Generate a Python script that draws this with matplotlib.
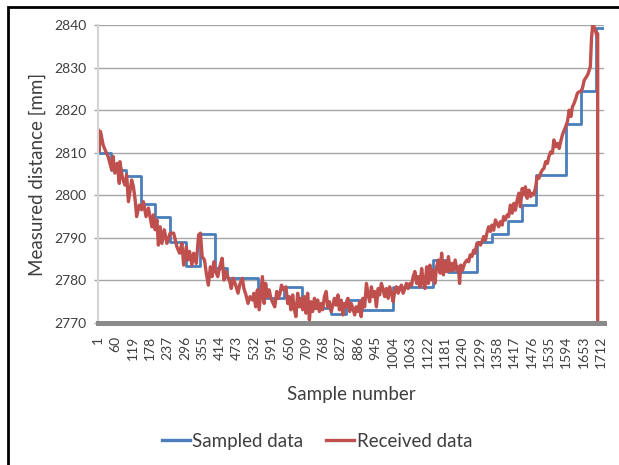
import numpy as np
import matplotlib
matplotlib.use('Agg')
import matplotlib.pyplot as plt
from matplotlib.patches import Rectangle

plt.rcParams['font.family'] = ['Lato', 'DejaVu Sans']

n_samples = 1722

# sampled data: sample where each level starts, and the level
step_start = [1, 45, 97, 147, 195, 247, 301, 347, 397, 441, 545, 634, 696, 795,
              845, 898, 1004, 1141, 1192, 1291, 1343, 1396, 1444, 1492, 1592,
              1644, 1695]
step_level = [2810, 2806, 2804.5, 2798, 2795, 2789, 2783.5, 2790.8, 2783, 2780.5,
              2775.8, 2778.4, 2773.5, 2772, 2775.4, 2773, 2778.5, 2784.8, 2782,
              2789, 2790.8, 2794, 2797.7, 2804.8, 2816.8, 2824.5, 2839.4]

# received data
recv_sample = [1, 4, 9, 18, 27, 35, 47, 52, 58, 66, 73, 75, 84, 92, 98, 104, 115,
               121, 127, 132, 141, 149, 155, 164, 172, 184, 189, 195, 201, 206,
               212, 218, 226, 235, 246, 258, 269, 278, 286, 292, 301, 306, 312,
               320, 326, 335, 343, 349, 355, 363, 369, 376, 383, 389, 395, 401,
               408, 415, 423, 429, 436, 442, 449, 454, 461, 469, 477, 484, 492,
               497, 504, 511, 518, 526, 531, 537, 543, 549, 554, 560, 566, 571,
               577, 583, 589, 594, 602, 609, 614, 620, 625, 632, 640, 646, 651,
               657, 663, 668, 674, 680, 686, 691, 697, 703, 708, 714, 720, 725,
               731, 737, 743, 748, 754, 760, 765, 771, 777, 782, 788, 794, 800,
               805, 811, 817, 822, 828, 834, 839, 845, 851, 857, 862, 868, 874,
               879, 885, 891, 896, 902, 908, 914, 919, 925, 931, 936, 942, 948,
               954, 959, 965, 971, 976, 982, 988, 993, 999, 1005, 1011, 1016,
               1022, 1028, 1033, 1039, 1045, 1050, 1056, 1062, 1068, 1073, 1079,
               1085, 1090, 1096, 1102, 1108, 1113, 1119, 1125, 1130, 1136, 1142,
               1147, 1153, 1159, 1165, 1170, 1176, 1182, 1187, 1193, 1199, 1205,
               1210, 1216, 1222, 1227, 1231, 1235, 1241, 1248, 1256, 1262, 1267,
               1273, 1279, 1284, 1290, 1296, 1302, 1307, 1313, 1319, 1324, 1330,
               1336, 1341, 1347, 1353, 1364, 1370, 1376, 1381, 1387, 1393, 1398,
               1404, 1410, 1416, 1421, 1427, 1433, 1438, 1444, 1450, 1455, 1461,
               1467, 1473, 1478, 1484, 1490, 1495, 1501, 1507, 1513, 1518, 1524,
               1530, 1535, 1541, 1547, 1552, 1558, 1564, 1570, 1575, 1581, 1587,
               1592, 1598, 1604, 1610, 1615, 1619, 1627, 1632, 1638, 1644, 1649,
               1655, 1667, 1676, 1680, 1684, 1687, 1693, 1697, 1701, 1702, 1722]
recv_value = [2815.3, 2810.3, 2815.0, 2811.8, 2810.3, 2809.1, 2806.0, 2809.1,
              2805.2, 2807.5, 2802.8, 2807.9, 2804.0, 2802.4, 2804.8, 2798.5,
              2803.6, 2802.0, 2798.9, 2795.0, 2797.7, 2796.6, 2798.5, 2795.0,
              2797.0, 2792.6, 2795.4, 2791.9, 2794.2, 2788.3, 2792.6, 2788.7,
              2791.9, 2788.7, 2791.1, 2791.1, 2787.9, 2786.4, 2788.7, 2783.6,
              2787.9, 2784.8, 2786.8, 2783.6, 2786.4, 2784.0, 2790.7, 2791.1,
              2785.6, 2784.8, 2781.7, 2778.9, 2783.2, 2780.9, 2784.4, 2782.1,
              2780.9, 2783.2, 2785.2, 2780.1, 2782.1, 2780.9, 2779.7, 2778.1,
              2780.5, 2778.9, 2777.0, 2779.3, 2780.5, 2778.1, 2776.6, 2774.6,
              2776.2, 2775.4, 2777.0, 2773.8, 2777.8, 2773.1, 2776.6, 2780.9,
              2774.6, 2779.3, 2776.2, 2777.8, 2775.8, 2775.0, 2773.8, 2777.4,
              2775.8, 2777.0, 2778.9, 2777.8, 2778.5, 2774.6, 2776.2, 2773.1,
              2776.6, 2773.4, 2771.5, 2777.0, 2773.8, 2775.8, 2773.1, 2776.2,
              2772.3, 2777.0, 2770.7, 2775.0, 2772.7, 2775.8, 2773.4, 2775.4,
              2772.7, 2774.6, 2773.1, 2776.2, 2777.4, 2773.8, 2775.0, 2772.7,
              2774.2, 2775.8, 2774.2, 2776.6, 2773.1, 2775.4, 2771.9, 2774.6,
              2773.8, 2775.8, 2772.7, 2774.6, 2773.4, 2771.9, 2773.8, 2772.7,
              2775.0, 2771.5, 2775.8, 2773.8, 2779.3, 2777.0, 2775.0, 2778.5,
              2776.2, 2777.4, 2773.8, 2778.1, 2776.6, 2779.3, 2777.8, 2776.2,
              2778.1, 2775.8, 2778.5, 2777.0, 2775.0, 2777.8, 2778.5, 2777.0,
              2778.1, 2778.9, 2777.0, 2778.1, 2779.3, 2778.1, 2779.3, 2778.9,
              2780.9, 2782.1, 2779.3, 2780.9, 2778.5, 2782.8, 2779.3, 2778.1,
              2783.2, 2779.3, 2783.6, 2780.1, 2782.4, 2779.3, 2783.2, 2784.8,
              2781.7, 2786.4, 2781.3, 2784.4, 2782.1, 2785.6, 2782.1, 2784.0,
              2782.4, 2784.8, 2782.4, 2783.2, 2779.3, 2783.6, 2782.4, 2784.0,
              2784.8, 2784.4, 2786.0, 2785.6, 2787.1, 2786.4, 2788.7, 2788.9,
              2788.3, 2789.1, 2790.3, 2789.5, 2791.1, 2792.6, 2791.5, 2793.0,
              2791.8, 2794.2, 2792.6, 2793.8, 2793.0, 2795.0, 2794.2, 2795.4,
              2795.0, 2797.7, 2795.8, 2798.1, 2796.5, 2798.9, 2800.5, 2797.3,
              2801.6, 2800.1, 2802.0, 2799.3, 2801.2, 2799.7, 2800.5, 2800.1,
              2802.0, 2804.4, 2804.0, 2805.2, 2806.0, 2806.3, 2807.9, 2807.5,
              2809.1, 2810.2, 2809.9, 2813.0, 2811.4, 2812.2, 2811.0, 2812.6,
              2814.2, 2815.3, 2816.1, 2817.3, 2820.0, 2818.5, 2820.8, 2821.3,
              2822.8, 2824.0, 2824.3, 2824.5, 2825.1, 2827.0, 2828.3, 2830.2,
              2836.9, 2840.0, 2839.8, 2838.8, 2837.7, 2838.0, 0, 0]

tick_samples = list(range(1, 1713, 59))

fig = plt.figure(figsize=(6.19, 4.65), dpi=100)
ax = fig.add_axes([98 / 619, 1 - 323 / 465, 506 / 619, 298 / 465])

# blue steps drawn through the end of the sample range
ax.step(step_start + [n_samples], step_level + [step_level[-1]], where='post',
        color='#4a7ebb', lw=2.0, label='Sampled data')
ax.plot(recv_sample, recv_value, color='#c0504d', lw=2.4, label='Received data')

ax.set_xlim(0.5, n_samples + 0.5)
ax.set_ylim(2770, 2840)
ax.set_yticks(range(2770, 2841, 10))
ax.set_xticks(tick_samples)
ax.set_xticklabels([str(t) for t in tick_samples], rotation=90)

ax.grid(axis='y', color='#a6a6a6', lw=1.0)
ax.set_axisbelow(True)
for s in ['top', 'right']:
    ax.spines[s].set_visible(False)
ax.spines['left'].set_color('#d4d4d4')
ax.spines['left'].set_linewidth(1.5)
ax.spines['bottom'].set_color('#8a8a8a')
ax.spines['bottom'].set_linewidth(3.6)
ax.spines['bottom'].set_zorder(3)

ax.tick_params(axis='x', length=0, pad=9, labelsize=10, labelcolor='#3f3f3f')
ax.tick_params(axis='y', length=3, width=1, color='#a6a6a6', pad=5,
               labelsize=10, labelcolor='#3f3f3f')

ax.set_xlabel('Sample number', fontsize=13.5, color='#3f3f3f', labelpad=13)
ax.set_ylabel('Measured distance [mm]', fontsize=13.5, color='#3f3f3f', labelpad=6)

leg = fig.legend(loc='center', bbox_to_anchor=(317 / 619, 1 - 441 / 465), ncol=2,
                 frameon=False, fontsize=13.5, handlelength=1.5, handletextpad=0.15,
                 columnspacing=1.2)
for t in leg.get_texts():
    t.set_color('#3f3f3f')
for h in leg.legend_handles:
    h.set_linewidth(2.4)

# black frame round the figure (right and bottom edges fall outside the image)
fig.add_artist(Rectangle((8 / 619, -0.1), 1.2, 1.1 - 7 / 465, transform=fig.transFigure,
                         fill=False, edgecolor='black', lw=2.0))

fig.savefig('out.png', dpi=100)
